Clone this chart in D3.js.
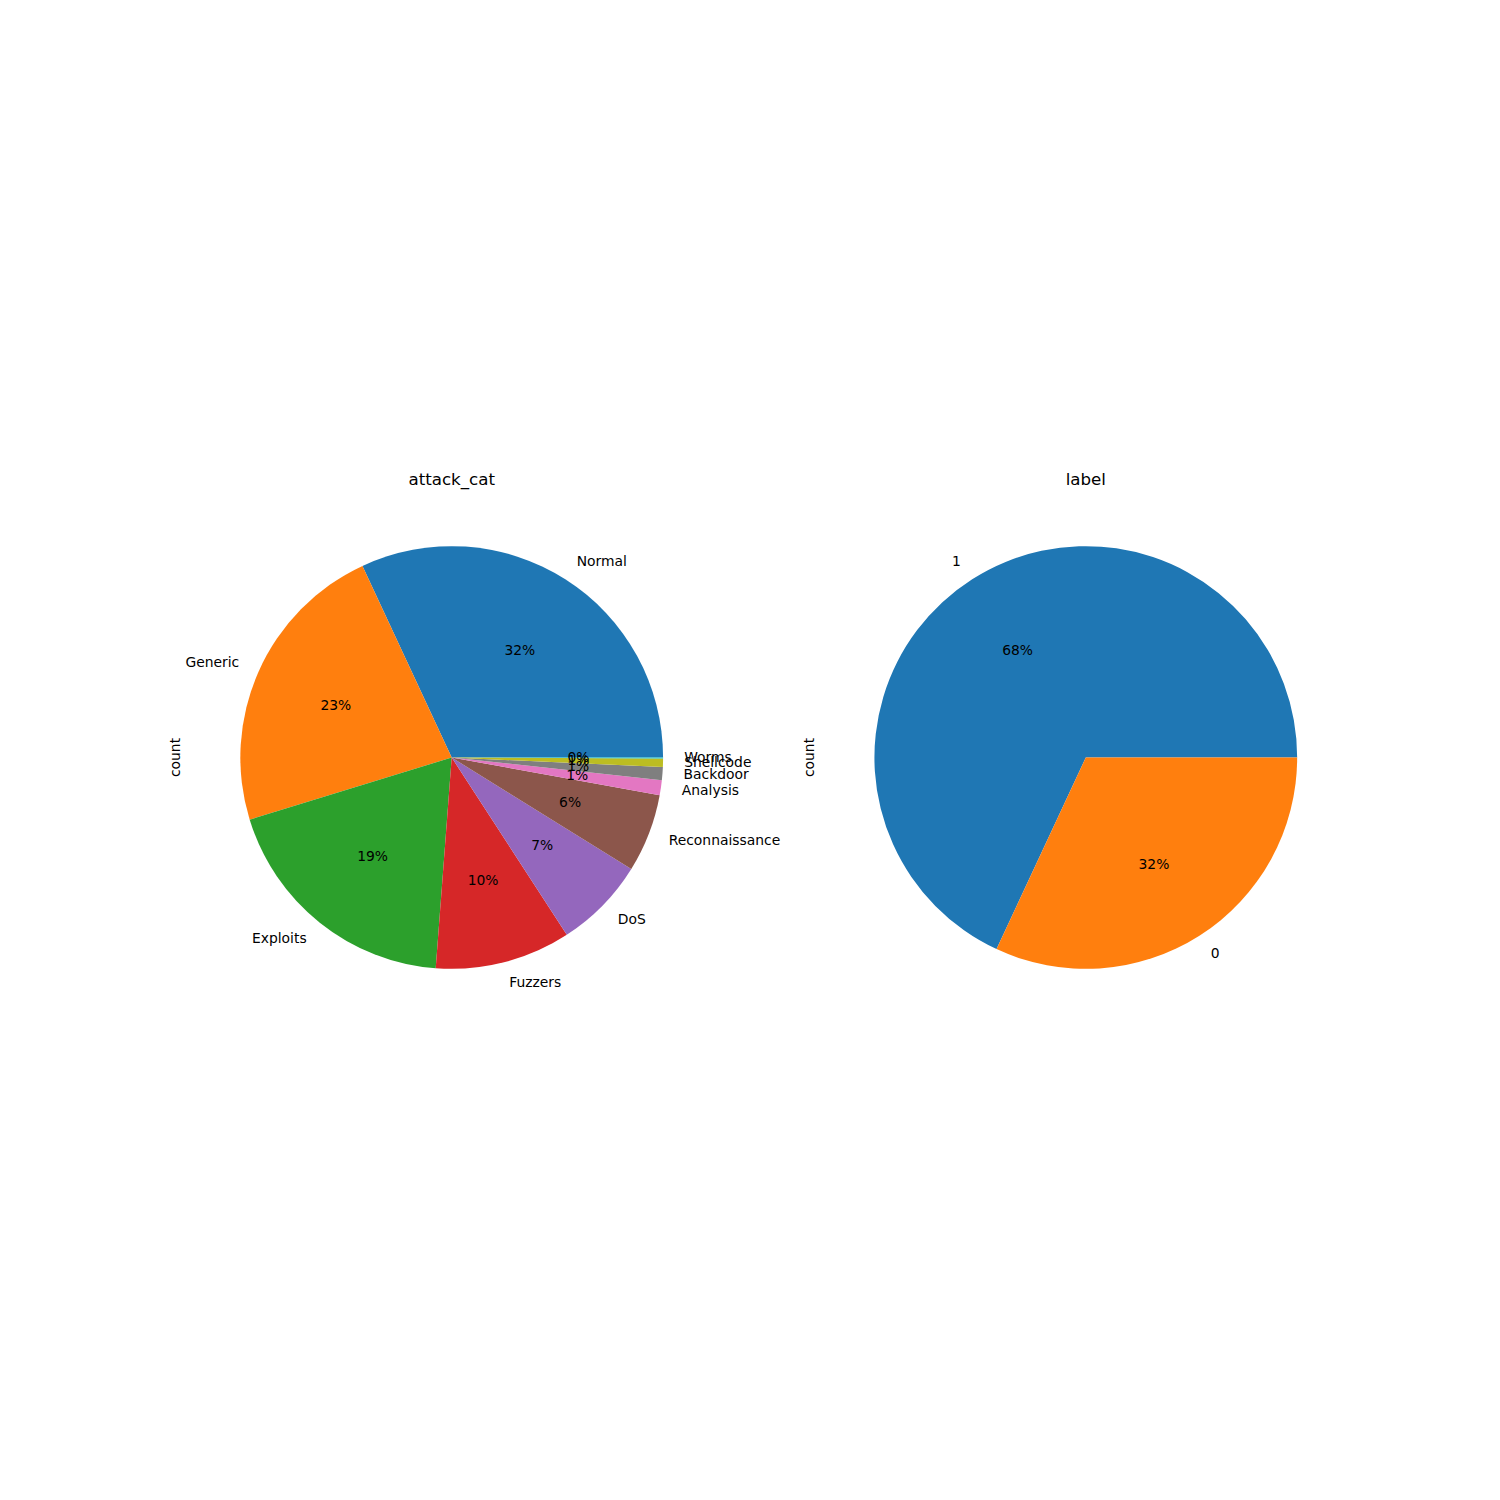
<!DOCTYPE html>
<html>
<head>
<meta charset="utf-8">
<script src="https://cdn.jsdelivr.net/npm/d3@7"></script>
<style>
  html, body { margin: 0; padding: 0; background: #ffffff; }
  svg { display: block; font-family: "DejaVu Sans", sans-serif; }
</style>
</head>
<body>
<script>
// ---- data ----
const attackCategories = ["Normal", "Generic", "Exploits", "Fuzzers", "DoS", "Reconnaissance", "Analysis", "Backdoor", "Shellcode", "Worms"];
const attackCounts = [56000, 40000, 33393, 18184, 12264, 10491, 2000, 1746, 1133, 130];
const labelCategories = ["1", "0"];
const labelCounts = [119341, 56000];
const titles = ["attack_cat", "label"];
const yLabel = "count";
const tab10 = ["#1f77b4", "#ff7f0e", "#2ca02c", "#d62728", "#9467bd", "#8c564b", "#e377c2", "#7f7f7f", "#bcbd22", "#17becf"];

// ---- layout (matplotlib-like figure 1500x1500) ----
const W = 1500, H = 1500;
const svg = d3.select("body").append("svg").attr("width", W).attr("height", H);

const figLeft = 0.125 * W, figRight = 0.9 * W;
const axW = (figRight - figLeft) / 2.2;
const gap = 0.2 * axW;
const cy = H - 0.495 * H;
const radius = axW / 2.5;
const labelFs = 13.89, titleFs = 16.67;

function drawPie(i, cats, counts) {
  const axLeft = figLeft + i * (axW + gap);
  const cx = axLeft + axW / 2;
  const g = svg.append("g").attr("transform", `translate(${cx},${cy})`);
  const data = cats.map((c, k) => ({ cat: c, value: counts[k], color: tab10[k] }));
  const total = d3.sum(counts);
  const pie = d3.pie().sort(null).value(d => d.value)
    .startAngle(Math.PI / 2).endAngle(Math.PI / 2 - 2 * Math.PI);
  const arcs = pie(data);
  const arc = d3.arc().innerRadius(0).outerRadius(radius);

  g.selectAll("path.w").data(arcs).join("path")
    .attr("class", "w")
    .attr("d", arc)
    .attr("fill", d => d.data.color);

  // category labels at 1.1 r
  g.selectAll("text.lab").data(arcs).join("text")
    .attr("class", "lab")
    .each(function (d) {
      const a = (d.startAngle + d.endAngle) / 2;
      const x = Math.sin(a) * radius * 1.1;
      const y = -Math.cos(a) * radius * 1.1;
      d3.select(this)
        .attr("x", x).attr("y", y)
        .attr("dy", "0.3em")
        .attr("text-anchor", x > 0 ? "start" : "end")
        .attr("font-size", labelFs)
        .attr("fill", "#000")
        .text(d.data.cat);
    });

  // percentages at 0.6 r
  g.selectAll("text.pct").data(arcs).join("text")
    .attr("class", "pct")
    .each(function (d) {
      const a = (d.startAngle + d.endAngle) / 2;
      const x = Math.sin(a) * radius * 0.6;
      const y = -Math.cos(a) * radius * 0.6;
      d3.select(this)
        .attr("x", x).attr("y", y)
        .attr("dy", "0.3em")
        .attr("text-anchor", "middle")
        .attr("font-size", labelFs)
        .attr("fill", "#000")
        .text(d3.format(".0f")(d.value / total * 100) + "%");
    });

  // title
  svg.append("text")
    .attr("x", cx).attr("y", cy - axW / 2 - 8.33)
    .attr("text-anchor", "middle")
    .attr("font-size", titleFs)
    .attr("fill", "#000")
    .text(titles[i]);

  // y label
  svg.append("text")
    .attr("transform", `translate(${axLeft - 8},${cy}) rotate(-90)`)
    .attr("text-anchor", "middle")
    .attr("font-size", labelFs)
    .attr("fill", "#000")
    .text(yLabel);
}

drawPie(0, attackCategories, attackCounts);
drawPie(1, labelCategories, labelCounts);
</script>
</body>
</html>
